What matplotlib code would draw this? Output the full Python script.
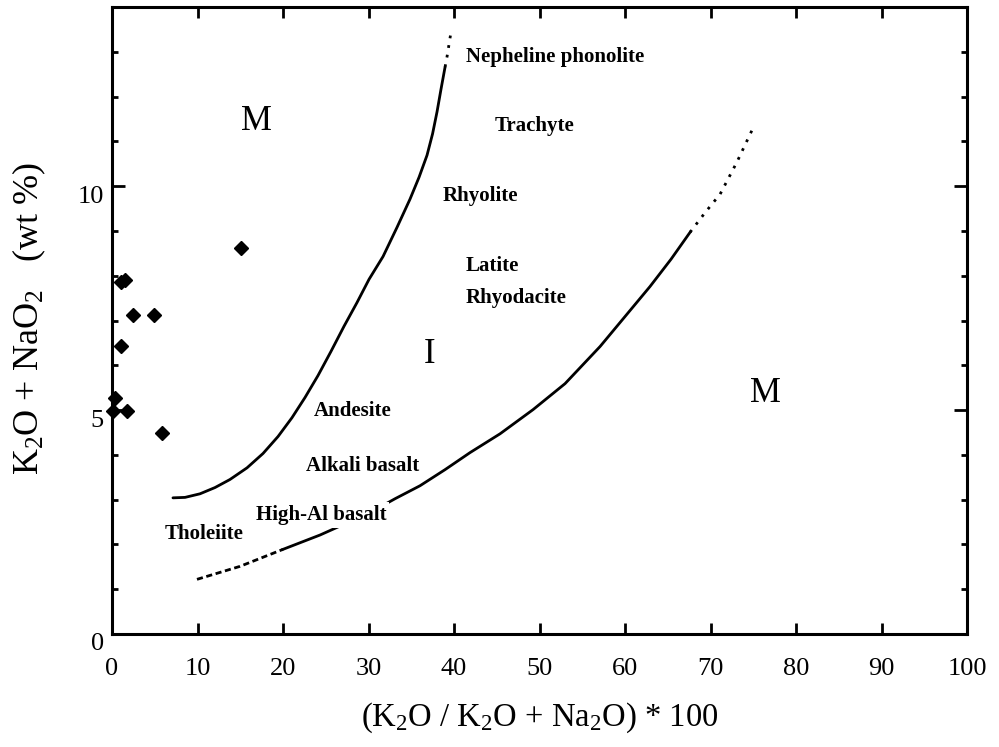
import matplotlib
matplotlib.use("Agg")
import matplotlib.pyplot as plt
from matplotlib.ticker import MultipleLocator, FixedLocator
from matplotlib.transforms import ScaledTranslation

plt.rcParams["font.family"] = ["Liberation Serif", "DejaVu Serif"]
plt.rcParams["mathtext.fontset"] = "custom"
plt.rcParams["mathtext.rm"] = "Liberation Serif"
plt.rcParams["mathtext.it"] = "Liberation Serif:italic"
plt.rcParams["mathtext.bf"] = "Liberation Serif:bold"

# Sample compositions
sample_ratio = [15.05, 1.0, 1.5, 2.4, 4.95, 1.0, 0.35, 0.1, 1.7, 5.9]
sample_alkali = [8.61, 7.85, 7.9, 7.12, 7.12, 6.43, 5.26, 4.99, 4.99, 4.49]

# Left boundary of the igneous field (solid part, then dotted extension)
left_x = [7.13, 8.54, 10.29, 12.05, 13.80, 15.79, 17.66, 19.42, 21.05, 22.57, 24.09,
          25.61, 27.13, 28.65, 30.06, 31.70, 33.33, 34.85, 35.91, 36.84, 37.49, 38.01,
          38.48, 38.95]
left_y = [3.04, 3.05, 3.13, 3.27, 3.45, 3.71, 4.03, 4.41, 4.83, 5.28, 5.77,
          6.31, 6.87, 7.40, 7.92, 8.43, 9.08, 9.71, 10.20, 10.69, 11.17, 11.66,
          12.17, 12.66]
left_ext_x = [38.95, 39.18, 39.65]
left_ext_y = [12.66, 12.89, 13.45]

# Right boundary of the igneous field (dashed start, solid, dotted extension)
right_low_x = [9.94, 14.97, 20.0]
right_low_y = [1.22, 1.51, 1.89]
right_x = [20.0, 24.33, 27.02, 30.18, 33.10, 36.02, 38.95, 41.87, 45.38, 49.24,
           52.98, 57.08, 60.0, 62.92, 65.38, 67.6]
right_y = [1.89, 2.21, 2.44, 2.71, 3.02, 3.31, 3.67, 4.05, 4.47, 5.01,
           5.59, 6.42, 7.09, 7.76, 8.37, 8.97]
right_ext_x = [67.6, 69.4, 71.11, 73.06, 74.82]
right_ext_y = [8.97, 9.42, 9.82, 10.53, 11.24]

# Rock names (left edge x, centre y)
rock_names = ["Nepheline phonolite", "Trachyte", "Rhyolite", "Latite", "Rhyodacite",
              "Andesite", "Alkali basalt", "High-Al basalt", "Tholeiite"]
rock_x = [41.4, 44.8, 38.7, 41.4, 41.4, 23.55, 22.7, 16.84, 6.2]
rock_y = [12.89, 11.34, 9.78, 8.22, 7.51, 4.97, 3.76, 2.66, 2.24]

# Field letters (centre x, centre y)
field_names = ["M", "I", "M"]
field_x = [16.9, 37.1, 76.4]
field_y = [11.45, 6.24, 5.37]

x_ticks = [0, 10, 20, 30, 40, 50, 60, 70, 80, 90, 100]
y_ticks = [0, 5, 10]

fig = plt.figure(figsize=(9.99, 7.47), dpi=100)
ax = fig.add_axes([0.1121, 0.1513, 0.856, 0.8393])
ax.set_xlim(0, 100)
ax.set_ylim(0, 14)

lw = 2.0
ax.plot(left_x, left_y, color="black", lw=lw, solid_capstyle="round",
        solid_joinstyle="round", zorder=2)
ax.plot(left_ext_x, left_ext_y, color="black", lw=lw, linestyle=(0, (1, 2.5)), zorder=2)
ax.plot(right_low_x, right_low_y, color="black", lw=lw, linestyle=(0, (2.2, 1.3)), zorder=2)
ax.plot(right_x, right_y, color="black", lw=lw, solid_joinstyle="round", zorder=2)
ax.plot(right_ext_x, right_ext_y, color="black", lw=lw, linestyle=(0, (1, 2.5)), zorder=2)

ax.plot(sample_ratio, sample_alkali, linestyle="none", marker="D", markersize=7.5,
        color="black", zorder=4, clip_on=False)

for name, x, y in zip(rock_names, rock_x, rock_y):
    t = ax.text(x, y, name, ha="left", va="center", fontsize=15, fontweight="bold", zorder=3)
    if name == "High-Al basalt":
        t.set_bbox(dict(facecolor="white", edgecolor="none", pad=2))

for name, x, y in zip(field_names, field_x, field_y):
    ax.text(x, y, name, ha="center", va="center", fontsize=25, zorder=3)

ax.xaxis.set_major_locator(FixedLocator(x_ticks))
ax.yaxis.set_major_locator(FixedLocator(y_ticks))
ax.yaxis.set_minor_locator(MultipleLocator(1))
ax.tick_params(axis="both", which="both", direction="in", top=True, right=True, width=2.0)
ax.tick_params(axis="x", which="major", length=8, pad=17, labelsize=19)
ax.tick_params(axis="y", which="major", length=9.5, pad=6, labelsize=19)
ax.tick_params(axis="y", which="minor", length=4.5)
for sp in ax.spines.values():
    sp.set_linewidth(2.2)

# tick numbers on the y axis sit slightly below their ticks
shift = ScaledTranslation(0, -8 / 100, fig.dpi_scale_trans)
for lab in ax.get_yticklabels():
    lab.set_transform(lab.get_transform() + shift)

fig.text(0.5405, 0.039, r"(K$_2$O / K$_2$O + Na$_2$O) * 100", ha="center", va="center",
         fontsize=23.5)
fig.text(0.029, 0.574, r"K$_2$O + NaO$_2$   (wt %)", ha="center", va="center",
         rotation=90, fontsize=26)

fig.savefig("out.png", dpi=100)
